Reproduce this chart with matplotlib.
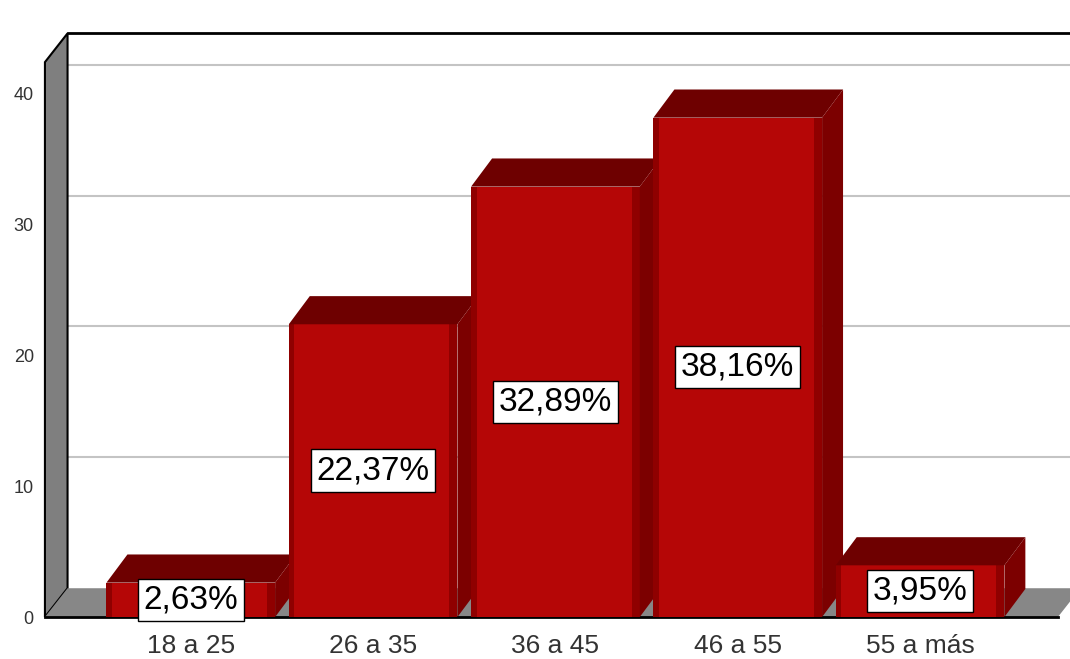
import matplotlib.pyplot as plt
from matplotlib.patches import Polygon, Rectangle

plt.rcParams['font.family'] = ['Liberation Sans', 'DejaVu Sans']

categorias = ['18 a 25', '26 a 35', '36 a 45', '46 a 55', '55 a más']
porcentajes = [2.63, 22.37, 32.89, 38.16, 3.95]
y_ticks = [0, 10, 20, 30, 40]
etiquetas = [f'{v:.2f}'.replace('.', ',') + '%' for v in porcentajes]

fig = plt.figure(figsize=(10.7, 6.59), dpi=100)
ax = fig.add_axes([0.042, 0.0637, 0.9467, 0.842])
x0, x1 = -0.80, 4.756
ymax = 42.4
dx, dy = 0.124, 2.2      # profundidad de la caja 3D
bdx, bdy = 0.115, 2.15   # profundidad de las barras
w = 0.925
ax.set_xlim(x0, x1)
ax.set_ylim(0, ymax)
ax.patch.set_visible(False)
for s in ax.spines.values():
    s.set_visible(False)

# pared del fondo + rejilla
ax.add_patch(Rectangle((x0 + dx, dy), x1 - x0, ymax, fc='white', ec='none',
                       clip_on=False, zorder=0))
for v in y_ticks[1:]:
    ax.plot([x0 + dx, x1 + dx], [v + dy, v + dy], color='#c4c4c4', lw=1.5,
            clip_on=False, zorder=1)

# pared izquierda y suelo
ax.add_patch(Polygon([(x0, 0), (x0, ymax), (x0 + dx, ymax + dy), (x0 + dx, dy)],
                     closed=True, fc='#7f7f7f', ec='black', lw=1.5,
                     clip_on=False, zorder=1))
ax.add_patch(Polygon([(x0, 0), (x1, 0), (x1 + dx, dy), (x0 + dx, dy)],
                     closed=True, fc='#878787', ec='none', clip_on=False, zorder=1))
ax.plot([x0, x1], [0, 0], color='black', lw=2, clip_on=False, zorder=2)
ax.plot([x0 + dx, x1 + dx], [ymax + dy, ymax + dy], color='black', lw=2,
        clip_on=False, zorder=2)

# barras
for i, v in enumerate(porcentajes):
    z = 3 + i
    left, right = i - w / 2, i + w / 2
    ax.add_patch(Rectangle((left, 0), w, v, fc='#8f0000', ec='none', zorder=z))
    ax.add_patch(Rectangle((left + 0.03, 0), w - 0.075, v, fc='#b50606',
                           ec='none', zorder=z))
    ax.add_patch(Polygon([(left, v), (right, v), (right + bdx, v + bdy),
                          (left + bdx, v + bdy)], closed=True, fc='#6e0000',
                         ec='none', clip_on=False, zorder=z))
    ax.add_patch(Polygon([(right, 0), (right + bdx, bdy), (right + bdx, v + bdy),
                          (right, v)], closed=True, fc='#7c0000', ec='none',
                         clip_on=False, zorder=z))
    ax.text(i, v / 2, etiquetas[i], ha='center', va='center', fontsize=24,
            color='black', zorder=20,
            bbox=dict(boxstyle='square,pad=0.17', fc='white', ec='black', lw=1))

ax.set_xticks(range(len(categorias)), categorias, fontsize=19, color='#333333')
ax.set_yticks(y_ticks, [str(t) for t in y_ticks], fontsize=13, color='#333333')
ax.tick_params(axis='x', length=0, pad=12)
ax.tick_params(axis='y', length=0, pad=8)

fig.savefig('out.png', dpi=100, facecolor='white')
